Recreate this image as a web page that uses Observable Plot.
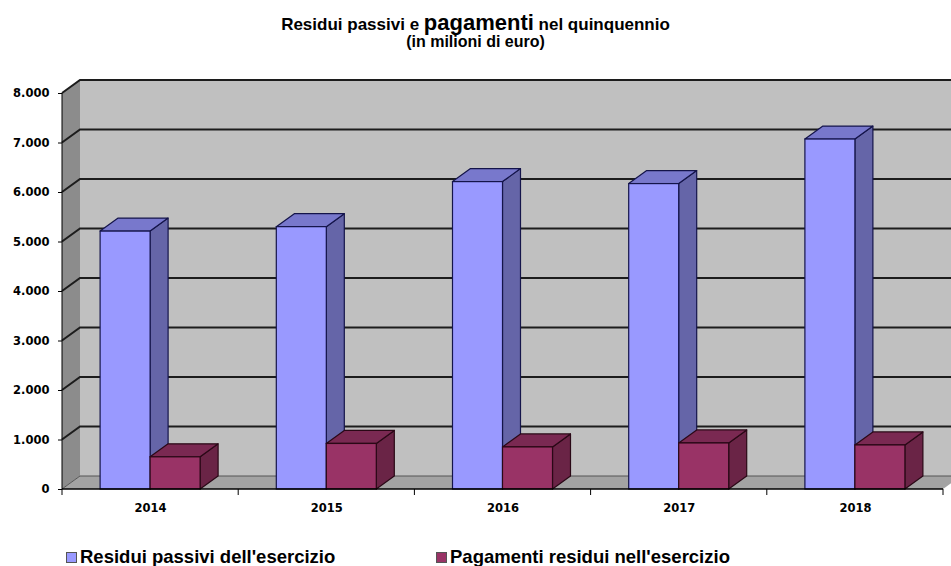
<!DOCTYPE html>
<html>
<head>
<meta charset="utf-8">
<script src="https://cdn.jsdelivr.net/npm/d3@7"></script>
<script src="https://cdn.jsdelivr.net/npm/@observablehq/plot@0.6"></script>
<style>
  body { margin: 0; background: #fff; width: 951px; font-family: "Liberation Sans", Arial, sans-serif; color: #000; }
  #head { height: 60px; text-align: center; font-weight: bold; }
  #t1 { padding-top: 12px; height: 22px; line-height: 22px; font-size: 17px; }
  #t1 .big { font-size: 22px; line-height: 22px; }
  #t2 { height: 16px; line-height: 16px; font-size: 16px; }
  #chart svg { display: block; }
  #legend { position: relative; height: 46px; }
  .item { position: absolute; top: 26px; display: flex; align-items: center; font-size: 18.5px; font-weight: bold; line-height: 22px; white-space: nowrap; }
  .sw { width: 9px; height: 9px; border: 1px solid #555; margin-right: 3px; }
</style>
</head>
<body>
<div id="head">
  <div id="t1">Residui passivi e <span class="big">pagamenti</span> nel quinquennio</div>
  <div id="t2">(in milioni di euro)</div>
</div>
<div id="chart"></div>
<div id="legend"></div>
<script>
// Esercizi e serie (milioni di euro)
const years = ["2014", "2015", "2016", "2017", "2018"];
const residui = [5210, 5300, 6210, 6170, 7070];
const pagamenti = [650, 920, 850, 930, 890];
const yTicks = [0, 1000, 2000, 3000, 4000, 5000, 6000, 7000, 8000];
const seriesNames = ["Residui passivi dell'esercizio", "Pagamenti residui nell'esercizio"];

const rows = years.map((year, i) => ({year, residui: residui[i], pagamenti: pagamenti[i]}));

// Layout and 3D look
const W = 951, H = 460, mL = 62, mR = 8, mT = 33, mB = 31;
const DX = 18, DY = -13;             // depth of the box
const bandW = (W - mL - mR) / years.length;
const barW = 50, gap = (bandW - 2 * barW) / 2;
const C = {
  wall: "#c0c0c0", side: "#8c8c8c", floor: "#a3a3a3", grid: "#1c1c1c",
  blue: "#9999ff", blueTop: "#7878cc", blueSide: "#6565a8", blueLine: "#14144a",
  plum: "#993366", plumTop: "#7a2952", plumSide: "#6a2446", plumLine: "#2a0816"
};
const itFormat = d3.formatLocale({decimal: ",", thousands: ".", grouping: [3], currency: ["€", ""]}).format(",");

// Back wall, left wall, floor and gridlines
function chamber(index, {x, y}, values, dim) {
  const g = d3.create("svg:g");
  const left = dim.marginLeft, right = dim.width - dim.marginRight;
  const yb = y(0), yt = y(yTicks[yTicks.length - 1]);
  g.append("rect").attr("x", left + DX).attr("y", yt + DY)
    .attr("width", right - left + 40).attr("height", yb - yt).attr("fill", C.wall);
  g.append("path").attr("fill", C.side)
    .attr("d", `M${left},${yt}L${left + DX},${yt + DY}V${yb + DY}L${left},${yb}Z`);
  g.append("path").attr("fill", C.floor)
    .attr("d", `M${left},${yb}L${left + DX},${yb + DY}H${right + DX}L${right},${yb}Z`);
  for (const v of yTicks) {
    const yy = y(v);
    g.append("path").attr("fill", "none")
      .attr("stroke", v === 0 ? "#555" : C.grid).attr("stroke-width", v === 0 ? 1 : 2)
      .attr("d", `M${left},${yy}L${left + DX},${yy + DY}H${right + DX + 40}`);
  }
  return g.node();
}

// Front frame: vertical edge, baseline and category separators
function frame(index, {x, y}, values, dim) {
  const g = d3.create("svg:g").attr("stroke", "#000").attr("fill", "none");
  const left = dim.marginLeft, right = dim.width - dim.marginRight;
  const yb = y(0), yt = y(yTicks[yTicks.length - 1]);
  g.append("path").attr("stroke-width", 1).attr("d", `M${left},${yt}V${yb}`);
  g.append("path").attr("stroke-width", 1.5).attr("d", `M${left},${yb}H${right}`);
  for (let i = 0; i <= years.length; i++) {
    const xx = i < years.length ? x(years[i]) : x(years[years.length - 1]) + bandW;
    g.append("path").attr("stroke-width", 1).attr("d", `M${xx},${yb}V${yb + 6}`);
  }
  return g.node();
}

// Top and side faces of one series of columns
function faces(key, offset, topFill, sideFill, stroke) {
  return (index, {x, y}) => {
    const g = d3.create("svg:g").attr("stroke", stroke).attr("stroke-width", 1.2).attr("stroke-linejoin", "round");
    for (const r of rows) {
      const xl = x(r.year) + offset, xr = xl + barW, yt = y(r[key]), yb = y(0);
      g.append("path").attr("fill", sideFill)
        .attr("d", `M${xr},${yt}L${xr + DX},${yt + DY}V${yb + DY}L${xr},${yb}Z`);
      g.append("path").attr("fill", topFill)
        .attr("d", `M${xl},${yt}L${xl + DX},${yt + DY}H${xr + DX}L${xr},${yt}Z`);
    }
    return g.node();
  };
}

const chart = Plot.plot({
  width: W, height: H,
  marginLeft: mL, marginRight: mR, marginTop: mT, marginBottom: mB,
  style: {fontFamily: "'DejaVu Sans', Verdana, sans-serif", fontSize: "11.5px", fontWeight: "bold", color: "#000", background: "transparent"},
  x: {type: "band", domain: years, padding: 0, round: false, label: null},
  y: {domain: [0, 8000], label: null},
  marks: [
    chamber,
    faces("residui", gap, C.blueTop, C.blueSide, C.blueLine),
    Plot.barY(rows, {x: "year", y: "residui", fill: C.blue, stroke: C.blueLine, strokeWidth: 1.2,
      insetLeft: gap, insetRight: bandW - gap - barW}),
    faces("pagamenti", gap + barW, C.plumTop, C.plumSide, C.plumLine),
    Plot.barY(rows, {x: "year", y: "pagamenti", fill: C.plum, stroke: C.plumLine, strokeWidth: 1.2,
      insetLeft: gap + barW, insetRight: gap}),
    frame,
    Plot.axisY({ticks: yTicks, tickSize: 4, tickPadding: 9, tickFormat: itFormat, label: null}),
    Plot.axisX({tickSize: 0, tickPadding: 14, label: null})
  ]
});
document.getElementById("chart").append(chart);

// Legend
const legend = d3.select("#legend");
const swatches = [C.blue, C.plum];
const lefts = [66, 436];
seriesNames.forEach((name, i) => {
  const item = legend.append("div").attr("class", "item").style("left", lefts[i] + "px");
  item.append("div").attr("class", "sw").style("background", swatches[i]);
  item.append("span").text(name);
});
</script>
</body>
</html>
